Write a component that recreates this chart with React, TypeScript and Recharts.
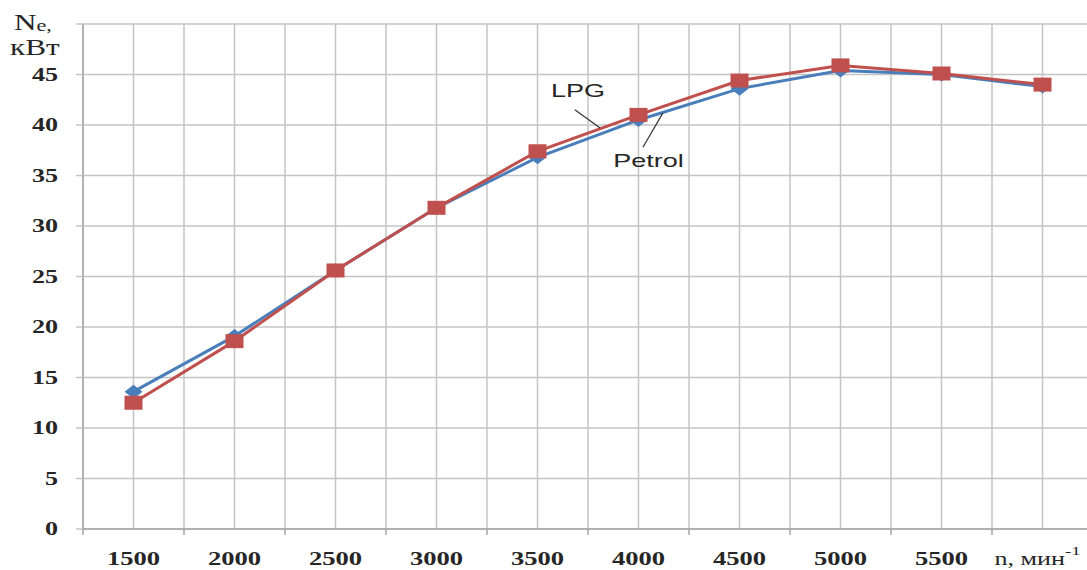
import React from 'react';
import { LineChart, Line, XAxis, YAxis, CartesianGrid, ReferenceLine, ReferenceDot } from 'recharts';

// engine speed, min^-1
const rpm = [1500, 2000, 2500, 3000, 3500, 4000, 4500, 5000, 5500, 6000];
// effective power Ne, kW
const lpgPower = [12.5, 18.6, 25.6, 31.8, 37.4, 41.0, 44.4, 45.9, 45.1, 44.0];
const petrolPower = [13.6, 19.1, 25.6, 31.8, 36.8, 40.5, 43.6, 45.4, 45.0, 43.8];

const yTicks = [0, 5, 10, 15, 20, 25, 30, 35, 40, 45, 50];
const xTicks = [1250, 1500, 1750, 2000, 2250, 2500, 2750, 3000, 3250, 3500, 3750, 4000, 4250, 4500, 4750, 5000, 5250, 5500, 5750, 6000, 6250];

// callout labels and their leader lines (data coords)
const callouts = [
    { text: 'LPG', x: 3700, y: 43.4, from: { x: 3685, y: 41.5 }, to: { x: 3810, y: 39.7 } },
    { text: 'Petrol', x: 4050, y: 36.5, from: { x: 4022, y: 37.8 }, to: { x: 4121, y: 41.2 } },
];

const data = rpm.map((n, i) => ({ n, lpg: lpgPower[i], petrol: petrolPower[i] }));

const SERIF = '"Liberation Serif", "Times New Roman", serif';
const SANS = '"Liberation Sans", Arial, sans-serif';
const STRETCH = 1.45;
const RED = '#c0504d';
const BLUE = '#4a7ebb';
const GRID = '#c4c4c4';

const YTick: React.FC<any> = ({ x, y, payload }) => {
    if (payload.value === 50) return null;
    return (
        <text
            transform={`translate(${x},${y}) scale(${STRETCH},1)`}
            textAnchor="end"
            dy="0.35em"
            fontFamily={SERIF}
            fontWeight="bold"
            fontSize={18}
            fill="#262626"
        >
            {payload.value}
        </text>
    );
};

const XTick: React.FC<any> = ({ x, y, payload }) => {
    const v = payload.value;
    const boundary = (v - 1250) % 500 === 0;
    return (
        <g>
            {boundary && <line x1={x} x2={x} y1={y - 6} y2={y} stroke="#a6a6a6" strokeWidth={1.5} />}
            {v % 500 === 0 && v < 6000 && (
                <text
                    transform={`translate(${x},${y + 30}) scale(1.4,1)`}
                    textAnchor="middle"
                    fontFamily={SERIF}
                    fontWeight="bold"
                    fontSize={19}
                    fill="#262626"
                >
                    {v}
                </text>
            )}
            {v === 6000 && (
                <text
                    transform={`translate(${x - 48},${y + 30}) scale(${STRETCH},1)`}
                    fontFamily={SERIF}
                    fontSize={18}
                    fill="#262626"
                >
                    n, мин
                    <tspan dy={-10} fontSize={13}>-1</tspan>
                </text>
            )}
        </g>
    );
};

const YTitle: React.FC<any> = ({ viewBox }) => {
    const { x, y } = viewBox;
    return (
        <g fontFamily={SERIF} fill="#262626">
            <text transform={`translate(${x + 14},${y + 6}) scale(1.3,1)`} fontSize={24}>
                N<tspan fontSize={17} dy={1}>e,</tspan>
            </text>
            <text transform={`translate(${x + 10},${y + 31}) scale(1.3,1)`} fontSize={24}>
                кВт
            </text>
        </g>
    );
};

const CalloutText: React.FC<any> = ({ viewBox, value }) => {
    const cx = viewBox.x + viewBox.width / 2;
    const cy = viewBox.y + viewBox.height / 2;
    return (
        <text
            transform={`translate(${cx},${cy}) scale(1.5,1)`}
            textAnchor="middle"
            dy="0.35em"
            fontFamily={SANS}
            fontSize={18}
            fill="#262626"
        >
            {value}
        </text>
    );
};

const SquareDot = (props: any) => {
    const { cx, cy, index } = props;
    if (cx == null || cy == null) return <g key={`sq-${index}`} />;
    return <rect key={`sq-${index}`} x={cx - 9} y={cy - 7} width={18} height={14} fill={RED} />;
};

const DiamondDot = (props: any) => {
    const { cx, cy, index } = props;
    if (cx == null || cy == null) return <g key={`dm-${index}`} />;
    return (
        <polygon
            key={`dm-${index}`}
            points={`${cx},${cy - 7} ${cx + 9},${cy} ${cx},${cy + 7} ${cx - 9},${cy}`}
            fill={BLUE}
        />
    );
};

const App: React.FC = () => {
    return (
        <div style={{ position: 'fixed', left: 0, top: 0, width: 1087, height: 570, overflow: 'hidden', background: '#fff' }}>
            <LineChart width={1110} height={570} data={data} margin={{ top: 24, right: 17, bottom: 0, left: 0 }}>
                <CartesianGrid stroke={GRID} strokeWidth={1.5} />
                <XAxis
                    dataKey="n"
                    type="number"
                    domain={[1250, 6250]}
                    ticks={xTicks}
                    interval={0}
                    height={41}
                    tickLine={false}
                    tickSize={6}
                    tickMargin={0}
                    stroke="#a6a6a6"
                    strokeWidth={1.5}
                    tick={<XTick />}
                />
                <YAxis
                    type="number"
                    domain={[0, 50]}
                    ticks={yTicks}
                    interval={0}
                    width={83}
                    tickSize={7}
                    tickMargin={18}
                    stroke="#a6a6a6"
                    strokeWidth={1.5}
                    tickLine={{ stroke: GRID, strokeWidth: 1.5 }}
                    tick={<YTick />}
                    label={{ content: (p: any) => <YTitle {...p} /> }}
                />
                <Line
                    type="linear"
                    dataKey="petrol"
                    stroke={BLUE}
                    strokeWidth={3}
                    dot={DiamondDot}
                    activeDot={false}
                    isAnimationActive={false}
                />
                <Line
                    type="linear"
                    dataKey="lpg"
                    stroke={RED}
                    strokeWidth={3}
                    dot={SquareDot}
                    activeDot={false}
                    isAnimationActive={false}
                />
                {callouts.map((c) => (
                    <ReferenceLine
                        key={`lead-${c.text}`}
                        segment={[c.from, c.to]}
                        stroke="#333"
                        strokeWidth={1.2}
                    />
                ))}
                {callouts.map((c) => (
                    <ReferenceDot
                        key={`txt-${c.text}`}
                        x={c.x}
                        y={c.y}
                        r={0}
                        fill="none"
                        stroke="none"
                        label={{ value: c.text, content: (p: any) => <CalloutText {...p} value={c.text} /> }}
                    />
                ))}
            </LineChart>
        </div>
    );
};

export default App;
